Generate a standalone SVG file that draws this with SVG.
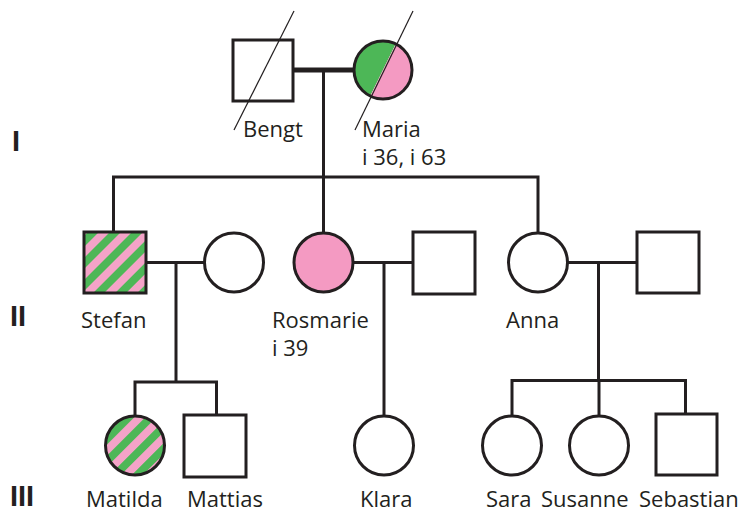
<svg xmlns="http://www.w3.org/2000/svg" width="742" height="513" viewBox="0 0 742 513">
  <style>
    .shape { fill: #ffffff; stroke: #231f20; stroke-width: 3; }
    .line { fill: none; stroke: #231f20; stroke-width: 3; }
    .couple-main { fill: none; stroke: #231f20; stroke-width: 5; }
    .deceased { fill: none; stroke: #231f20; stroke-width: 1.2; }
    .name { font-family: "Open Sans", "Noto Sans", sans-serif; font-size: 22px; fill: #231f20; }
    .gen { font-family: "Liberation Sans", Arial, sans-serif; font-weight: bold; font-size: 29px; fill: #231f20; }
  </style>
  <defs>
    <pattern id="stripes" patternUnits="userSpaceOnUse" width="15.6" height="15.6" patternTransform="rotate(45)">
      <rect x="0" y="0" width="15.6" height="15.6" fill="#4db757"/>
      <rect x="0" y="0" width="7.8" height="15.6" fill="#f4a3c8"/>
    </pattern>
  </defs>

  <!-- generation numerals -->
  <g id="generations">
    <text class="gen" x="12" y="151">I</text>
    <text class="gen" x="10" y="326">II</text>
    <text class="gen" x="10" y="506">III</text>
  </g>

  <!-- connectors -->
  <g id="connectors">
    <line class="couple-main" x1="293" y1="70" x2="354" y2="70"/>
    <line class="line" x1="323.5" y1="70" x2="323.5" y2="177"/>
    <polyline class="line" points="113.5,232 113.5,177 538,177 538,232"/>
    <line class="line" x1="323.5" y1="177" x2="323.5" y2="233"/>

    <line class="line" x1="146" y1="262.5" x2="205" y2="262.5"/>
    <line class="line" x1="176" y1="262.5" x2="176" y2="382"/>
    <polyline class="line" points="135,416 135,382 216.5,382 216.5,415"/>

    <line class="line" x1="353" y1="262.5" x2="413" y2="262.5"/>
    <line class="line" x1="384" y1="262.5" x2="384" y2="416"/>

    <line class="line" x1="568" y1="262.5" x2="637" y2="262.5"/>
    <line class="line" x1="598.5" y1="262.5" x2="598.5" y2="380.5"/>
    <polyline class="line" points="512,416 512,380.5 685.5,380.5 685.5,414"/>
    <line class="line" x1="599" y1="380.5" x2="599" y2="416"/>
  </g>

  <!-- generation I -->
  <g id="bengt">
    <rect class="shape" x="233" y="40" width="60" height="61"/>
    <line class="deceased" x1="294" y1="11" x2="234" y2="130"/>
    <text class="name" x="243" y="137">Bengt</text>
  </g>
  <g id="maria">
    <path d="M395.7,43.9 A29,29 0 0 0 370.3,96.1 Z" fill="#4db757"/>
    <path d="M395.7,43.9 A29,29 0 0 1 370.3,96.1 Z" fill="#f49ac2"/>
    <circle cx="383" cy="70" r="29" fill="none" stroke="#231f20" stroke-width="3"/>
    <line class="deceased" x1="413" y1="11" x2="355" y2="130"/>
    <text class="name" x="362" y="137">Maria</text>
    <text class="name" x="362" y="165">i 36, i 63</text>
  </g>

  <!-- generation II -->
  <g id="stefan">
    <rect x="84" y="232" width="62" height="61" fill="url(#stripes)" stroke="#231f20" stroke-width="3"/>
    <text class="name" x="81" y="328">Stefan</text>
  </g>
  <g id="stefan-partner">
    <circle class="shape" cx="234" cy="262.5" r="29.5"/>
  </g>
  <g id="rosmarie">
    <circle cx="323.5" cy="262.5" r="29.5" fill="#f49ac2" stroke="#231f20" stroke-width="3"/>
    <text class="name" x="272" y="328">Rosmarie</text>
    <text class="name" x="272" y="356">i 39</text>
  </g>
  <g id="rosmarie-partner">
    <rect class="shape" x="413" y="232" width="62" height="62"/>
  </g>
  <g id="anna">
    <circle class="shape" cx="538" cy="262.5" r="29.5"/>
    <text class="name" x="506" y="328">Anna</text>
  </g>
  <g id="anna-partner">
    <rect class="shape" x="637" y="232" width="62" height="61"/>
  </g>

  <!-- generation III -->
  <g id="matilda">
    <circle cx="135" cy="445.5" r="29.5" fill="url(#stripes)" stroke="#231f20" stroke-width="3"/>
    <text class="name" x="86" y="507">Matilda</text>
  </g>
  <g id="mattias">
    <rect class="shape" x="184" y="415" width="62" height="62"/>
    <text class="name" x="187" y="507">Mattias</text>
  </g>
  <g id="klara">
    <circle class="shape" cx="384" cy="445.5" r="29.5"/>
    <text class="name" x="360" y="507">Klara</text>
  </g>
  <g id="sara">
    <circle class="shape" cx="512" cy="445.5" r="29.5"/>
    <text class="name" x="486" y="507">Sara</text>
  </g>
  <g id="susanne">
    <circle class="shape" cx="599" cy="445.5" r="29.5"/>
    <text class="name" x="541" y="507">Susanne</text>
  </g>
  <g id="sebastian">
    <rect class="shape" x="656" y="414" width="61" height="61"/>
    <text class="name" x="639" y="507">Sebastian</text>
  </g>
</svg>
